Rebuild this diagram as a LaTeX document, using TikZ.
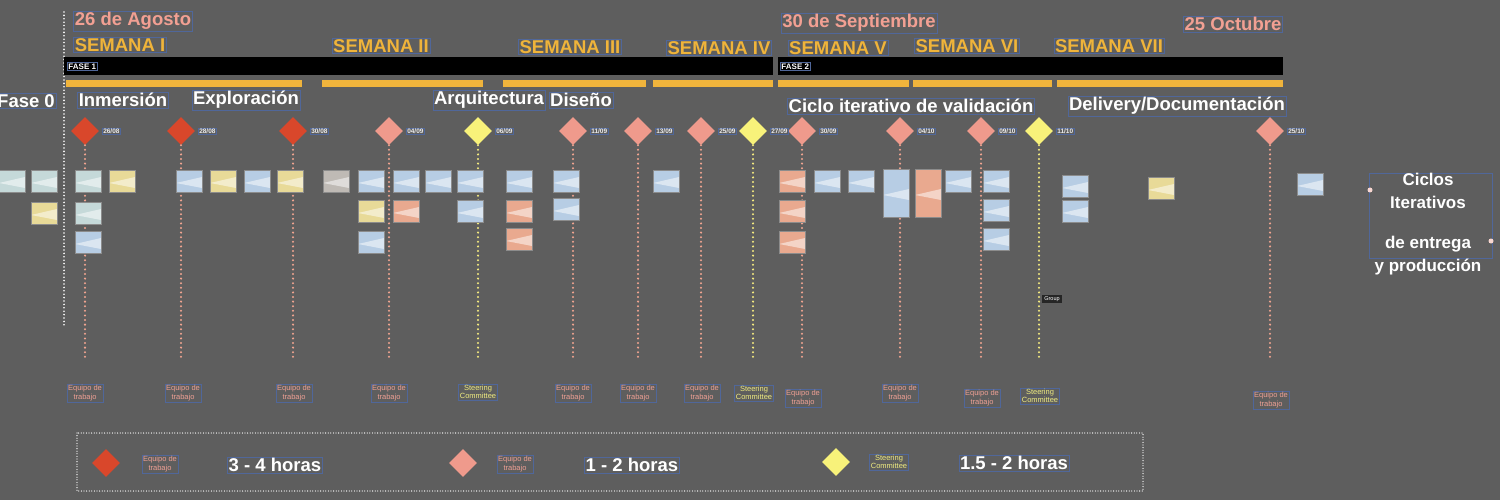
\documentclass[tikz,border=0pt]{standalone}
\usepackage{fontspec}
\setmainfont{Liberation Sans}
\usepackage{tikz}
\usetikzlibrary{shapes.geometric,positioning,calc}

\definecolor{fondo}{HTML}{5E5E5E}
\definecolor{borde}{HTML}{50679A}
\definecolor{fechacol}{HTML}{F2A093}
\definecolor{semcol}{HTML}{F0B43A}
\definecolor{barra}{HTML}{F0B43C}
\definecolor{rojo}{HTML}{D9472B}
\definecolor{salmon}{HTML}{EF9A8C}
\definecolor{amarillo}{HTML}{F8F27A}
\definecolor{salmtxt}{HTML}{EFA094}
\definecolor{amatxt}{HTML}{F0EC80}
\definecolor{ptsal}{HTML}{F0A490}
\definecolor{ptama}{HTML}{F4EA80}
\definecolor{nteal}{HTML}{C5D9D9}
\definecolor{nblue}{HTML}{B7CDE4}
\definecolor{nyel}{HTML}{E8DA98}
\definecolor{nsal}{HTML}{E9A98F}
\definecolor{ngray}{HTML}{BFBAB5}

\begin{document}
\begin{tikzpicture}[x=1pt,y=-1pt,
  lbl/.style={draw=borde,line width=0.5pt,inner sep=1.2pt},
  fecha/.style={lbl,font=\fontsize{18.5}{20}\selectfont\bfseries,text=fechacol},
  semana/.style={lbl,font=\fontsize{18.5}{20}\selectfont\bfseries,text=semcol},
  etapa/.style={lbl,font=\fontsize{18.5}{20}\selectfont\bfseries,text=white},
  fasetag/.style={lbl,font=\fontsize{8}{9}\selectfont\bfseries,text=white,anchor=west},
  hito/.style={diamond,minimum width=28pt,minimum height=28pt,inner sep=0pt},
  fuerte/.style={hito,fill=rojo},
  media/.style={hito,fill=salmon},
  comite/.style={hito,fill=amarillo},
  dia/.style={lbl,inner sep=0.8pt,font=\fontsize{6.5}{7}\selectfont\bfseries,text=white!92!black},
  equipo/.style={lbl,align=center,font=\fontsize{7.5}{8.5}\selectfont,text=salmtxt},
  steering/.style={lbl,align=center,font=\fontsize{7.5}{8.5}\selectfont,text=amatxt},
  puntos/.style={line width=2.3pt,line cap=round,dash pattern=on 0pt off 4.6pt},
  nota/.style={draw=black!45,line width=0.3pt,minimum width=26pt,minimum height=22pt,inner sep=0pt,
    path picture={\fill[white,opacity=0.5] ([yshift=-2pt]path picture bounding box.west)
      -- ([yshift=4pt]path picture bounding box.east) -- ([yshift=-7pt]path picture bounding box.east) -- cycle;}},
  alta/.style={nota,minimum height=48pt}]

% Background
\fill[fondo] (0,0) rectangle (1500,500);
\useasboundingbox (0,0) rectangle (1500,500);

% Fase start line
\coordinate (fa) at (64,12);
\coordinate (fb) at (64,325);
\draw[white,line width=1.8pt,line cap=round,dash pattern=on 0pt off 3.4pt] (fa) -- (fb);

% Dates and weeks
\node[fecha] (agosto) at (133,21) {26 de Agosto};
\node[fecha] (sept) at (859,23) {30 de Septiembre};
\node[fecha] (oct) at (1233,24) {25 Octubre};
\node[semana] (s1) at (120,45) {SEMANA I};
\node[semana] (s2) at (381,46) {SEMANA II};
\node[semana] (s3) at (570,47) {SEMANA III};
\node[semana] (s4) at (719,48) {SEMANA IV};
\node[semana] (s5) at (838,48) {SEMANA V};
\node[semana] (s6) at (967,46) {SEMANA VI};
\node[semana] (s7) at (1109,46) {SEMANA VII};

% Phase bars
\fill[black] (64,57) rectangle (773,75);
\fill[black] (778,57) rectangle (1283,75);
\node[fasetag] (f1) at (67,66.5) {FASE 1};
\node[fasetag] (f2) at (780,66.5) {FASE 2};

% Week bars
\fill[barra] (66,80) rectangle (302,87);
\fill[barra] (322,80) rectangle (483,87);
\fill[barra] (503,80) rectangle (646,87);
\fill[barra] (653,80) rectangle (773,87);
\fill[barra] (778,80) rectangle (909,87);
\fill[barra] (913,80) rectangle (1052,87);
\fill[barra] (1057,80) rectangle (1283,87);

% Stages
\node[etapa] (fase0) at (26,101) {Fase 0};
\node[etapa] (inm) at (123,100) {Inmersión};
\node[etapa] (expl) at (246,100) {Exploración};
\node[etapa] (arq) at (489,100) {Arquitectura};
\node[etapa] (dis) at (581,100) {Diseño};
\node[etapa] (ciclo) at (911,106) {Ciclo iterativo de validación};
\node[etapa] (deliv) at (1177,106) {Delivery/Documentación};

% Milestones
\node[fuerte] (d1) at (85,131) {};
\node[fuerte] (d2) at (181,131) {};
\node[fuerte] (d3) at (293,131) {};
\node[media] (d4) at (389,131) {};
\node[comite] (d5) at (478,131) {};
\node[media] (d6) at (573,131) {};
\node[media] (d7) at (638,131) {};
\node[media] (d8) at (701,131) {};
\node[comite] (d9) at (753,131) {};
\node[media] (d10) at (802,131) {};
\node[media] (d11) at (900,131) {};
\node[media] (d12) at (981,131) {};
\node[comite] (d13) at (1039,131) {};
\node[media] (d14) at (1270,131) {};

\node[dia,right=3pt of d1] {26/08};
\node[dia,right=3pt of d2] {28/08};
\node[dia,right=3pt of d3] {30/08};
\node[dia,right=3pt of d4] {04/09};
\node[dia,right=3pt of d5] {06/09};
\node[dia,right=3pt of d6] {11/09};
\node[dia,right=3pt of d7] {13/09};
\node[dia,right=3pt of d8] {25/09};
\node[dia,right=3pt of d9] {27/09};
\node[dia,right=3pt of d10] {30/09};
\node[dia,right=3pt of d11] {04/10};
\node[dia,right=3pt of d12] {09/10};
\node[dia,right=3pt of d13] {11/10};
\node[dia,right=3pt of d14] {25/10};

% Dotted guides
\coordinate (g1) at (85,360);
\coordinate (g2) at (181,360);
\coordinate (g3) at (293,360);
\coordinate (g4) at (389,360);
\coordinate (g5) at (478,360);
\coordinate (g6) at (573,360);
\coordinate (g7) at (638,360);
\coordinate (g8) at (701,360);
\coordinate (g9) at (753,360);
\coordinate (g10) at (802,360);
\coordinate (g11) at (900,360);
\coordinate (g12) at (981,360);
\coordinate (g13) at (1039,360);
\coordinate (g14) at (1270,360);
\draw[puntos,ptsal] (d1.south) -- (g1);
\draw[puntos,ptsal] (d2.south) -- (g2);
\draw[puntos,ptsal] (d3.south) -- (g3);
\draw[puntos,ptsal] (d4.south) -- (g4);
\draw[puntos,ptama] (d5.south) -- (g5);
\draw[puntos,ptsal] (d6.south) -- (g6);
\draw[puntos,ptsal] (d7.south) -- (g7);
\draw[puntos,ptsal] (d8.south) -- (g8);
\draw[puntos,ptama] (d9.south) -- (g9);
\draw[puntos,ptsal] (d10.south) -- (g10);
\draw[puntos,ptsal] (d11.south) -- (g11);
\draw[puntos,ptsal] (d12.south) -- (g12);
\draw[puntos,ptama] (d13.south) -- (g13);
\draw[puntos,ptsal] (d14.south) -- (g14);

% Sticky notes, first row
\node[nota,fill=nteal] (n1) at (12,181) {};
\node[nota,fill=nteal] (n2) at (44,181) {};
\node[nota,fill=nteal] (n3) at (88,181) {};
\node[nota,fill=nyel] (n4) at (122,181) {};
\node[nota,fill=nblue] (n5) at (189,181) {};
\node[nota,fill=nyel] (n6) at (223,181) {};
\node[nota,fill=nblue] (n7) at (257,181) {};
\node[nota,fill=nyel] (n8) at (290,181) {};
\node[nota,fill=ngray] (n9) at (336,181) {};
\node[nota,fill=nblue] (n10) at (371,181) {};
\node[nota,fill=nblue] (n11) at (406,181) {};
\node[nota,fill=nblue] (n12) at (438,181) {};
\node[nota,fill=nblue] (n13) at (470,181) {};
\node[nota,fill=nblue] (n14) at (519,181) {};
\node[nota,fill=nblue] (n15) at (566,181) {};
\node[nota,fill=nblue] (n16) at (666,181) {};
\node[nota,fill=nsal] (n17) at (792,181) {};
\node[nota,fill=nblue] (n18) at (827,181) {};
\node[nota,fill=nblue] (n19) at (861,181) {};
\node[alta,fill=nblue] (n20) at (896,193) {};
\node[alta,fill=nsal] (n21) at (928,193) {};
\node[nota,fill=nblue] (n22) at (958,181) {};
\node[nota,fill=nblue] (n23) at (996,181) {};
\node[nota,fill=nblue] (n24) at (1075,186) {};
\node[nota,fill=nyel] (n25) at (1161,188) {};
\node[nota,fill=nblue] (n26) at (1310,184) {};

% Sticky notes, second row
\node[nota,fill=nyel] (n27) at (44,213) {};
\node[nota,fill=nteal] (n28) at (88,213) {};
\node[nota,fill=nyel] (n29) at (371,211) {};
\node[nota,fill=nsal] (n30) at (406,211) {};
\node[nota,fill=nblue] (n31) at (470,211) {};
\node[nota,fill=nsal] (n32) at (519,211) {};
\node[nota,fill=nblue] (n33) at (566,209) {};
\node[nota,fill=nsal] (n34) at (792,211) {};
\node[nota,fill=nblue] (n35) at (996,210) {};
\node[nota,fill=nblue] (n36) at (1075,211) {};

% Sticky notes, third row
\node[nota,fill=nblue] (n37) at (88,242) {};
\node[nota,fill=nblue] (n38) at (371,242) {};
\node[nota,fill=nsal] (n39) at (519,239) {};
\node[nota,fill=nsal] (n40) at (792,242) {};
\node[nota,fill=nblue] (n41) at (996,239) {};

% Group tag
\node[fill=black!85,text=white,font=\fontsize{5.5}{6}\selectfont,inner sep=2pt] (grp) at (1052,299) {Group};

% Side note
\draw[borde,line width=0.6pt] (1369,173) rectangle (1492,258);
\fill[salmon!40!white] (1370,190) circle (2.5);
\fill[salmon!40!white] (1491,241) circle (2.5);
\node[align=center,text=white,font=\fontsize{17}{23}\selectfont\bfseries] (ciclos) at (1428,224)
  {Ciclos\\Iterativos\\[17pt]de entrega\\y producción};

% Who meets
\node[equipo] (e1) at (85,393) {Equipo de\\trabajo};
\node[equipo] (e2) at (183,393) {Equipo de\\trabajo};
\node[equipo] (e3) at (294,393) {Equipo de\\trabajo};
\node[equipo] (e4) at (389,393) {Equipo de\\trabajo};
\node[steering] (e5) at (478,392) {Steering\\Committee};
\node[equipo] (e6) at (573,393) {Equipo de\\trabajo};
\node[equipo] (e7) at (638,393) {Equipo de\\trabajo};
\node[equipo] (e8) at (702,393) {Equipo de\\trabajo};
\node[steering] (e9) at (754,393) {Steering\\Committee};
\node[equipo] (e10) at (803,398) {Equipo de\\trabajo};
\node[equipo] (e11) at (900,393) {Equipo de\\trabajo};
\node[equipo] (e12) at (982,398) {Equipo de\\trabajo};
\node[steering] (e13) at (1040,396) {Steering\\Committee};
\node[equipo] (e14) at (1271,400) {Equipo de\\trabajo};

% Legend
\draw[white,line width=1.3pt,line cap=round,dash pattern=on 0pt off 2.6pt] (77,433) rectangle (1143,491);
\node[fuerte] (l1) at (106,463) {};
\node[equipo] (le1) at (160,464) {Equipo de\\trabajo};
\node[etapa] (lh1) at (275,465) {3 - 4 horas};
\node[media] (l2) at (463,463) {};
\node[equipo] (le2) at (515,464) {Equipo de\\trabajo};
\node[etapa] (lh2) at (632,465) {1 - 2 horas};
\node[comite] (l3) at (836,462) {};
\node[steering] (le3) at (889,462) {Steering\\Committee};
\node[etapa] (lh3) at (1014,463) {1.5 - 2 horas};
\end{tikzpicture}
\end{document}
